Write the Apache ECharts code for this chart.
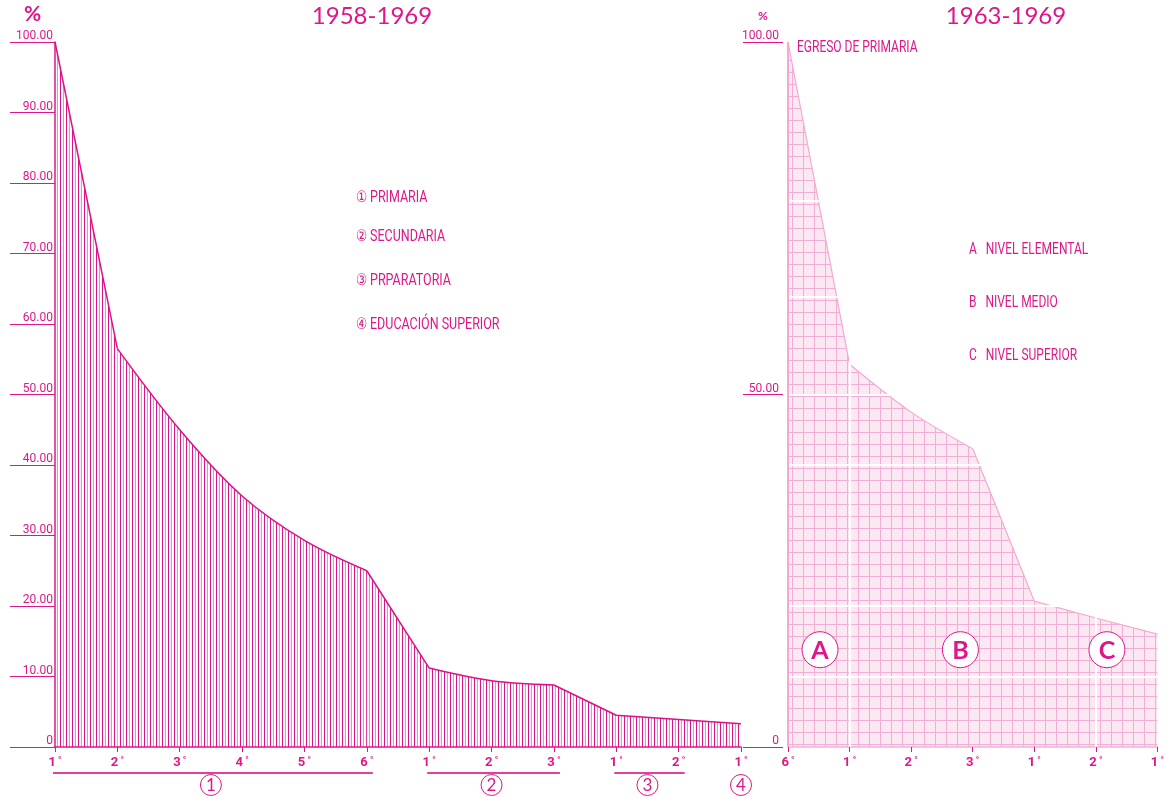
<!DOCTYPE html>
<html><head><meta charset="utf-8">
<script src="https://cdn.jsdelivr.net/npm/echarts@6/dist/echarts.min.js"></script>
<style>html,body{margin:0;padding:0;background:#fff}#c{width:1167px;height:797px}</style>
</head><body><div id="c"></div>
<script>
// ---- data ----
const leftCats = ['1','2','3','4','5','6','1','2','3','1','2','1'];
const leftVals = [100, 56.5, 45.0, 35.6, 29.3, 25.0, 11.2, 9.4, 8.8, 4.5, 3.9, 3.3];
const leftCurved = [[1, 5], [6, 8]];           // index ranges drawn as curves
const leftGroups = [['1',0,5],['2',6,8],['3',9,10],['4',11,11]];
const leftLegend = ['① PRIMARIA','② SECUNDARIA','③ PRPARATORIA','④ EDUCACIÓN SUPERIOR'];
const rightCats = ['6','1','2','3','1','2','1'];
const rightVals = [100, 54.3, 47.5, 42.3, 20.7, 18.3, 16.0];
const rightCurved = [[1, 3]];
const rightWhiteY = [77.5, 63.8, 50, 40, 20, 10];
const rightWhiteX = [1, 5];
const rightLetters = [['A',0.52,13.8],['B',2.8,13.8],['C',5.18,13.8]];
const rightLegend = ['A   NIVEL ELEMENTAL','B   NIVEL MEDIO','C   NIVEL SUPERIOR'];
const leftTitle = '1958-1969', rightTitle = '1963-1969';

const MAG = '#de1688';
const NARROW = "Roboto,'Noto Sans',sans-serif";
const WIDE = "Lato,'Noto Sans',sans-serif";

function hatch(){const c=document.createElement('canvas');c.width=6;c.height=4;const g=c.getContext('2d');
  g.fillStyle='#fff';g.fillRect(0,0,6,4);g.fillStyle='#dc1286';g.fillRect(0,0,1,4);g.fillStyle='#f08cc6';g.fillRect(3,0,1,4);return c;}
function gridPat(){const c=document.createElement('canvas');c.width=11;c.height=12;const g=c.getContext('2d');
  g.fillStyle='#fbe8f3';g.fillRect(0,0,11,12);g.fillStyle='#f3aed5';g.fillRect(0,0,11,1);g.fillRect(0,0,1,12);return c;}

// split a value list into straight part and curved parts
function straightPart(vals, curved){
  return vals.map((v, i) => {
    const inside = curved.some(([a, b]) => i > a && i < b);
    const edgeOnlyCurved = curved.some(([a, b]) => (i === a || i === b)) &&
      !((i > 0 && !curved.some(([a, b]) => i - 1 >= a && i <= b)) || (i < vals.length - 1 && !curved.some(([a, b]) => i >= a && i + 1 <= b)));
    return (inside || edgeOnlyCurved) ? '-' : v;
  });
}
function curvedPart(vals, [a, b]){ return vals.map((v, i) => (i >= a && i <= b) ? v : '-'); }

const xLabel = {interval: 0, margin: 9, color: MAG, formatter: v => '{n|' + v + '}{d| °}',
  rich: {n: {fontSize: 13, fontWeight: 'bold', fontFamily: NARROW, color: MAG},
         d: {fontSize: 9, fontWeight: 'bold', fontFamily: NARROW, color: MAG, verticalAlign: 'top', padding:[0,0,3,0]}}};
const yFmt = v => v === 0 ? '0' : v.toFixed(2);

const leftArea = {color: {image: hatch(), repeat: 'repeat'}, opacity: 1};
const rightArea = {color: {image: gridPat(), repeat: 'repeat'}, opacity: 1};
const leftLine = {color: '#dc1286', width: 1.5};
const rightLine = {color: '#f3a9d2', width: 1.2};

const series = [];
series.push({type: 'line', xAxisIndex: 0, yAxisIndex: 0, data: straightPart(leftVals, leftCurved), symbol: 'none',
  connectNulls: false, lineStyle: leftLine, areaStyle: leftArea});
leftCurved.forEach(r => series.push({type: 'line', xAxisIndex: 0, yAxisIndex: 0, data: curvedPart(leftVals, r),
  symbol: 'none', smooth: 0.35, lineStyle: leftLine, areaStyle: leftArea}));
rightCurved.forEach(r => series.push({type: 'line', xAxisIndex: 1, yAxisIndex: 1, data: curvedPart(rightVals, r),
  symbol: 'none', smooth: 0.3, lineStyle: rightLine, areaStyle: rightArea}));
series.push({type: 'line', xAxisIndex: 1, yAxisIndex: 1, data: straightPart(rightVals, rightCurved), symbol: 'none',
  connectNulls: false, lineStyle: rightLine, areaStyle: rightArea,
  markLine: {silent: true, symbol: 'none', label: {show: false}, z: 5,
    lineStyle: {color: '#ffffff', width: 2, type: 'solid'},
    data: rightWhiteY.map(v => ({yAxis: v})).concat(rightWhiteX.map(i => ({xAxis: i})))
      .concat([{xAxis: 0, lineStyle: {color: '#f3a9d2', width: 2}}])}});

const chart = echarts.init(document.getElementById('c'));
chart.setOption({
  animation: false,
  grid: [
    {left: 55, top: 42, width: 686, height: 705},
    {left: 788, top: 42, width: 371, height: 705}
  ],
  xAxis: [
    {gridIndex: 0, type: 'category', data: leftCats, boundaryGap: false, z: 4,
     axisLine: {lineStyle: {color: MAG, width: 1.5}},
     axisTick: {interval: 0, length: 5, lineStyle: {color: MAG}}, axisLabel: xLabel, splitLine: {show: false}},
    {gridIndex: 1, type: 'category', data: rightCats, boundaryGap: false, z: 4,
     axisLine: {lineStyle: {color: '#f3b0d6', width: 1.5}},
     axisTick: {interval: 0, length: 5, lineStyle: {color: MAG}}, axisLabel: xLabel, splitLine: {show: false}}
  ],
  yAxis: [
    {gridIndex: 0, type: 'value', min: 0, max: 100, interval: 10, z: 3,
     axisLine: {show: true, lineStyle: {color: MAG, width: 1.5}},
     axisTick: {show: true, length: 45, lineStyle: {color: MAG}},
     axisLabel: {margin: 2, verticalAlign: 'bottom', color: MAG, fontSize: 12, fontFamily: NARROW, formatter: yFmt},
     splitLine: {show: true, lineStyle: {color: '#ffffff', width: 2}}},
    {gridIndex: 1, type: 'value', min: 0, max: 100, interval: 50, offset: 5,
     axisLine: {show: false},
     axisTick: {show: true, length: 40, lineStyle: {color: MAG}},
     axisLabel: {margin: 4, verticalAlign: 'bottom', color: MAG, fontSize: 12, fontFamily: NARROW, formatter: yFmt},
     splitLine: {show: false}}
  ],
  series
});

// ---- annotations ----
const g = [];
const txt = (x, y, s, font, align, sx) => g.push({type: 'text', x, y, scaleX: sx || 1, silent: true, z: 10,
  style: {text: s, font, fill: MAG, textAlign: align || 'left', textVerticalAlign: 'middle'}});
txt(24, 14, '%', 'bold 21px ' + WIDE);
txt(372, 16, leftTitle, '24px ' + WIDE, 'center');
txt(763, 16, '%', 'bold 12px ' + WIDE, 'center');
txt(1006, 16, rightTitle, '24px ' + WIDE, 'center');
const legY = [198, 237, 281, 325];
leftLegend.forEach((s, i) => txt(356, legY[i], s, '16px ' + NARROW, 'left', 0.78));
txt(797, 48, 'EGRESO DE PRIMARIA', '16px ' + NARROW, 'left', 0.75);
const rLegY = [250, 303, 356];
rightLegend.forEach((s, i) => txt(969, rLegY[i], s, '16px ' + NARROW, 'left', 0.75));

const P0 = (i, v) => chart.convertToPixel({gridIndex: 0}, [i, v]);
const P1 = (i, v) => chart.convertToPixel({gridIndex: 1}, [i, v]);
leftGroups.forEach(([lab, a, b]) => {
  const pa = P0(a, 0), pb = P0(b, 0);
  if (b > a) g.push({type: 'line', silent: true, shape: {x1: pa[0] - 2, y1: pa[1] + 26, x2: pb[0] + 6, y2: pb[1] + 26},
    style: {stroke: '#e3409b', lineWidth: 2}});
  const cx = (pa[0] + pb[0]) / 2, cy = pa[1] + 38;
  g.push({type: 'circle', silent: true, z: 10, shape: {cx, cy, r: 10.5}, style: {fill: '#fff', stroke: MAG, lineWidth: 1}});
  txt(cx, cy + 1, lab, '17px ' + WIDE, 'center');
});
rightLetters.forEach(([lab, idx, v]) => {
  const i0 = Math.floor(idx), f = idx - i0;
  const a = P1(i0, v), b = P1(Math.min(i0 + 1, rightCats.length - 1), v);
  const x = a[0] + (b[0] - a[0]) * f, y = a[1];
  g.push({type: 'circle', silent: true, z: 10, shape: {cx: x, cy: y, r: 18}, style: {fill: '#fff', stroke: MAG, lineWidth: 1}});
  txt(x, y + 1, lab, 'bold 25px ' + WIDE, 'center');
});
chart.setOption({graphic: g});
</script></body></html>
